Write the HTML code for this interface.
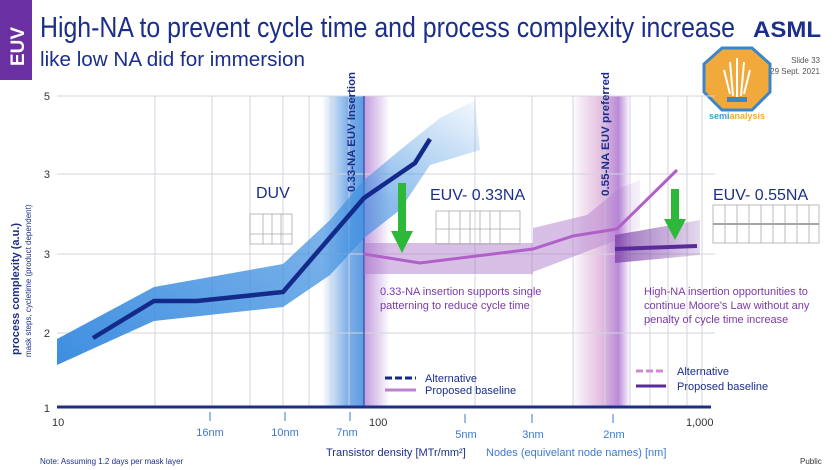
<!DOCTYPE html>
<html><head><meta charset="utf-8"><style>
html,body{margin:0;padding:0;background:#fff;width:836px;height:470px;overflow:hidden}
svg{display:block;font-family:"Liberation Sans",sans-serif}
</style></head><body>
<svg width="836" height="470" viewBox="0 0 836 470" xmlns="http://www.w3.org/2000/svg">
<defs>
<linearGradient id="bb" x1="0" x2="1"><stop offset="0" stop-color="#4a90e0" stop-opacity="0"/><stop offset="0.6" stop-color="#4a90e0" stop-opacity="0.7"/><stop offset="1" stop-color="#4a90e0" stop-opacity="0.9"/></linearGradient>
<linearGradient id="pb" x1="0" x2="1"><stop offset="0" stop-color="#9b59c8" stop-opacity="0.6"/><stop offset="1" stop-color="#9b59c8" stop-opacity="0"/></linearGradient>
<linearGradient id="pp" x1="0" x2="1"><stop offset="0" stop-color="#c890c8" stop-opacity="0"/><stop offset="0.45" stop-color="#d8a0d0" stop-opacity="0.6"/><stop offset="0.8" stop-color="#9b59c8" stop-opacity="0.7"/><stop offset="1" stop-color="#9b59c8" stop-opacity="0"/></linearGradient>
<linearGradient id="duvfade" x1="0" x2="1" y1="1" y2="0"><stop offset="0" stop-color="#3d8ee0"/><stop offset="0.7" stop-color="#3d8ee0" stop-opacity="0.6"/><stop offset="1" stop-color="#3d8ee0" stop-opacity="0.05"/></linearGradient>
<linearGradient id="pfade" x1="0" x2="1"><stop offset="0" stop-color="#a870c8" stop-opacity="0.45"/><stop offset="0.8" stop-color="#a870c8" stop-opacity="0.45"/><stop offset="1" stop-color="#a870c8" stop-opacity="0.1"/></linearGradient>
<linearGradient id="hfade" x1="0" x2="1"><stop offset="0" stop-color="#7b3fa8" stop-opacity="0.75"/><stop offset="1" stop-color="#7b3fa8" stop-opacity="0.2"/></linearGradient>
</defs>

<!-- header -->
<rect x="0" y="0" width="32" height="80" fill="#6a2fa0"/>
<text x="0" y="0" transform="translate(24,66) rotate(-90)" font-size="19" font-weight="bold" fill="#fff">EUV</text>
<text x="40" y="37" font-size="29" fill="#1b2f8a" textLength="695" lengthAdjust="spacingAndGlyphs">High-NA to prevent cycle time and process complexity increase</text>
<text x="40" y="66" font-size="20" fill="#1b2f8a" textLength="265" lengthAdjust="spacingAndGlyphs">like low NA did for immersion</text>
<text x="753" y="37" font-size="22" font-weight="bold" fill="#1b2f8a" textLength="68" lengthAdjust="spacingAndGlyphs">ASML</text>
<text x="820" y="63" font-size="8" fill="#555" text-anchor="end">Slide 33</text>
<text x="820" y="74" font-size="8" fill="#555" text-anchor="end">29 Sept. 2021</text>
<!-- logo -->
<polygon points="722,48 752,48 770,64 770,92 752,110 722,110 704,92 704,64" fill="#f2a93b" stroke="#3a86c8" stroke-width="3"/>
<path d="M737 58 L737 98 M730 62 L733 96 M744 62 L741 96 M724 70 L730 94 M750 70 L744 94" stroke="#fff" stroke-width="2" fill="none"/>
<rect x="727" y="97" width="20" height="5" fill="#3a86c8"/>
<text x="737" y="119" font-size="9" font-weight="bold" fill="#3aa0c8" text-anchor="middle">semi<tspan fill="#f2a93b">analysis</tspan></text>

<!-- vertical bands -->
<rect x="322" y="96" width="42" height="311" fill="url(#bb)"/>
<rect x="364" y="96" width="26" height="311" fill="url(#pb)"/>
<rect x="572" y="96" width="58" height="311" fill="url(#pp)"/>

<!-- grid -->
<g stroke="#d4d4dc" stroke-width="1">
<line x1="57" y1="96" x2="715" y2="96"/>
<line x1="57" y1="174" x2="715" y2="174"/>
<line x1="57" y1="254" x2="715" y2="254"/>
<line x1="57" y1="333" x2="715" y2="333"/>
<line x1="155" y1="96" x2="155" y2="407"/><line x1="212" y1="96" x2="212" y2="407"/>
<line x1="250" y1="96" x2="250" y2="407"/><line x1="283" y1="96" x2="283" y2="407"/>
<line x1="309" y1="96" x2="309" y2="407"/><line x1="331" y1="96" x2="331" y2="407"/>
<line x1="349" y1="96" x2="349" y2="407"/>
<line x1="475" y1="96" x2="475" y2="407"/><line x1="532" y1="96" x2="532" y2="407"/>
<line x1="573" y1="96" x2="573" y2="407"/><line x1="605" y1="96" x2="605" y2="407"/>
<line x1="630" y1="96" x2="630" y2="407"/><line x1="650" y1="96" x2="650" y2="407"/>
<line x1="668" y1="96" x2="668" y2="407"/><line x1="687" y1="96" x2="687" y2="407"/>
<line x1="702" y1="96" x2="702" y2="407"/>
</g>
<line x1="364" y1="96" x2="364" y2="407" stroke="#2a4aa0" stroke-width="1.2"/>

<!-- y labels -->
<g font-size="11" fill="#333" text-anchor="end">
<text x="50" y="100">5</text><text x="50" y="178">3</text><text x="50" y="258">3</text><text x="50" y="337">2</text><text x="50" y="412">1</text>
</g>
<text transform="translate(19,355) rotate(-90)" font-size="11" font-weight="bold" fill="#1b2f8a">process complexity (a.u.)</text>
<text transform="translate(31,357) rotate(-90)" font-size="8" fill="#1b2f8a">mask steps, cycletime (product dependent)</text>

<!-- DUV band & line -->
<polygon points="57,339 154,287 283,264 330,220 364,180 400,150 440,118 475,100 480,150 430,165 400,210 364,238 330,275 283,307 154,321 57,365" fill="url(#duvfade)"/>
<polyline points="93,338 154,301 197,301 283,292 364,198 415,163 430,139" fill="none" stroke="#142a8a" stroke-width="4.5"/>

<!-- EUV 0.33 purple band -->
<polygon points="364,243 533,243 533,228 587,215 620,188 640,180 640,228 617,240 533,272 533,274 364,274" fill="url(#pfade)"/>
<polyline points="364,254 420,263 533,249 573,236 617,229 677,170" fill="none" stroke="#b060c8" stroke-width="3"/>

<!-- High NA band -->
<polygon points="615,235 700,220 700,255 615,263" fill="url(#hfade)"/>
<line x1="615" y1="249" x2="697" y2="246" stroke="#5a2a9a" stroke-width="4"/>

<!-- arrows -->
<rect x="398" y="183" width="8" height="50" fill="#2db83a"/>
<polygon points="391,231 413,231 402,253" fill="#2db83a"/>
<rect x="671" y="189" width="8" height="32" fill="#2db83a"/>
<polygon points="664,219 686,219 675,240" fill="#2db83a"/>

<!-- rotated labels -->
<text transform="translate(355,192) rotate(-90)" font-size="11" font-weight="bold" fill="#1b2f8a" textLength="120" lengthAdjust="spacingAndGlyphs">0.33-NA EUV Insertion</text>
<text transform="translate(609,196) rotate(-90)" font-size="11" font-weight="bold" fill="#1b2f8a" textLength="124" lengthAdjust="spacingAndGlyphs">0.55-NA EUV preferred</text>

<!-- region labels -->
<text x="256" y="198" font-size="16" fill="#1b2f8a">DUV</text>
<text x="430" y="200" font-size="16" fill="#1b2f8a">EUV- 0.33NA</text>
<text x="713" y="200" font-size="16" fill="#1b2f8a">EUV- 0.55NA</text>

<!-- tool sketches -->
<g fill="none" stroke="#aaa" stroke-width="0.8">
<rect x="250" y="214" width="42" height="30"/><line x1="263" y1="214" x2="263" y2="244"/><line x1="272" y1="214" x2="272" y2="244"/><line x1="281" y1="214" x2="281" y2="244"/><line x1="250" y1="234" x2="292" y2="234"/>
<rect x="436" y="211" width="84" height="33"/><line x1="449" y1="211" x2="449" y2="244"/><line x1="460" y1="211" x2="460" y2="244"/><line x1="470" y1="211" x2="470" y2="244"/><line x1="480" y1="211" x2="480" y2="244"/><line x1="490" y1="211" x2="490" y2="244"/><line x1="500" y1="211" x2="500" y2="244"/><line x1="436" y1="229" x2="520" y2="229"/>
<rect x="713" y="205" width="106" height="38"/><line x1="713" y1="224" x2="819" y2="224" stroke="#888" stroke-width="1.5"/>
<line x1="725" y1="205" x2="725" y2="243"/><line x1="737" y1="205" x2="737" y2="243"/><line x1="749" y1="205" x2="749" y2="243"/><line x1="761" y1="205" x2="761" y2="243"/><line x1="773" y1="205" x2="773" y2="243"/><line x1="785" y1="205" x2="785" y2="243"/><line x1="797" y1="205" x2="797" y2="243"/><line x1="809" y1="205" x2="809" y2="243"/>
</g>

<!-- annotations -->
<g font-size="11" fill="#7a3aa8">
<text x="380" y="295">0.33-NA insertion supports single</text>
<text x="380" y="309">patterning to reduce cycle time</text>
<text x="644" y="295">High-NA insertion opportunities to</text>
<text x="644" y="309">continue Moore's Law without any</text>
<text x="644" y="323">penalty of cycle time increase</text>
</g>

<!-- legends -->
<line x1="385" y1="378" x2="416" y2="378" stroke="#142a8a" stroke-width="3" stroke-dasharray="7,3"/>
<text x="425" y="382" font-size="11" fill="#1b2f8a">Alternative</text>
<line x1="385" y1="390" x2="416" y2="390" stroke="#c080d0" stroke-width="3"/>
<text x="425" y="394" font-size="11" fill="#1b2f8a">Proposed baseline</text>
<line x1="636" y1="371" x2="666" y2="371" stroke="#d08ad0" stroke-width="3" stroke-dasharray="7,3"/>
<text x="677" y="375" font-size="11" fill="#1b2f8a">Alternative</text>
<line x1="636" y1="386" x2="666" y2="386" stroke="#5a2a9a" stroke-width="3"/>
<text x="677" y="390" font-size="11" fill="#1b2f8a">Proposed baseline</text>

<!-- x axis -->
<line x1="57" y1="407" x2="711" y2="407" stroke="#1b2f8a" stroke-width="3"/>
<g font-size="11" fill="#333">
<text x="52" y="426">10</text><text x="369" y="426">100</text><text x="686" y="426">1,000</text>
</g>
<g stroke="#3a7ad0" stroke-width="1">
<line x1="210" y1="412" x2="210" y2="421"/><line x1="285" y1="412" x2="285" y2="421"/><line x1="350" y1="412" x2="350" y2="421"/>
<line x1="465" y1="414" x2="465" y2="423"/><line x1="532" y1="414" x2="532" y2="423"/><line x1="613" y1="414" x2="613" y2="423"/>
</g>
<g font-size="11" fill="#3a7ad0" text-anchor="middle">
<text x="210" y="436">16nm</text><text x="285" y="436">10nm</text><text x="347" y="436">7nm</text>
<text x="466" y="438">5nm</text><text x="533" y="438">3nm</text><text x="614" y="438">2nm</text>
</g>
<text x="326" y="456" font-size="11" fill="#1b2f8a">Transistor density [MTr/mm²]</text>
<text x="486" y="456" font-size="11" fill="#3a7ad0">Nodes (equivelant node names) [nm]</text>
<text x="40" y="464" font-size="8" fill="#1b2f8a">Note: Assuming 1.2 days per mask layer</text>
<text x="800" y="464" font-size="8" fill="#333">Public</text>
</svg>
</body></html>
